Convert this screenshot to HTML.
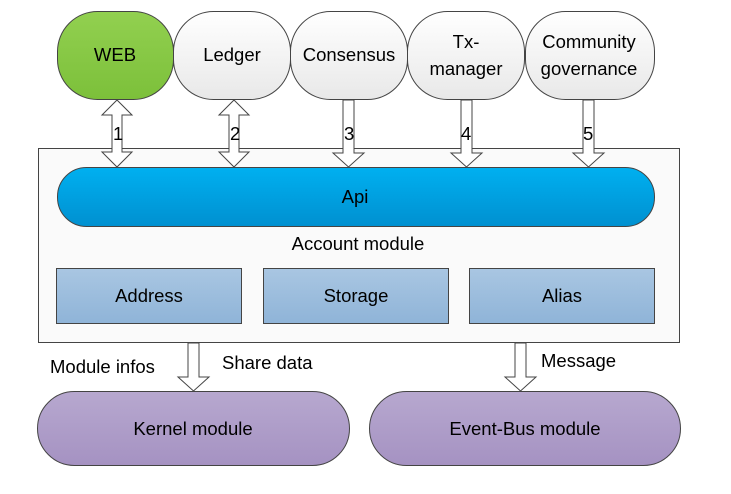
<!DOCTYPE html>
<html><head><style>body{margin:0;background:#fff}svg{display:block}text{font-family:"Liberation Sans",sans-serif;font-size:18.5px;fill:#000}</style></head><body>
<svg width="731" height="494" viewBox="0 0 731 494" xmlns="http://www.w3.org/2000/svg">
<defs>
<linearGradient id="gw" x1="0" y1="0" x2="0" y2="1"><stop offset="0" stop-color="#ffffff"/><stop offset="1" stop-color="#e8e8e8"/></linearGradient>
<linearGradient id="gg" x1="0" y1="0" x2="0" y2="1"><stop offset="0" stop-color="#92d050"/><stop offset="1" stop-color="#7cc03a"/></linearGradient>
<linearGradient id="gb" x1="0" y1="0" x2="0" y2="1"><stop offset="0" stop-color="#00b0f0"/><stop offset="1" stop-color="#0090d0"/></linearGradient>
<linearGradient id="gs" x1="0" y1="0" x2="0" y2="1"><stop offset="0" stop-color="#a9c6e2"/><stop offset="1" stop-color="#8fb4d8"/></linearGradient>
<linearGradient id="gp" x1="0" y1="0" x2="0" y2="1"><stop offset="0" stop-color="#b7a8cf"/><stop offset="1" stop-color="#a592c2"/></linearGradient>
</defs>
<rect x="38.5" y="148.5" width="641" height="194" fill="#fafafa" stroke="#444"/>
<rect x="57.5" y="11.5" width="116" height="88" rx="40" fill="url(#gg)" stroke="#444"/>
<rect x="173.5" y="11.5" width="117" height="88" rx="40" fill="url(#gw)" stroke="#444"/>
<rect x="290.5" y="11.5" width="117" height="88" rx="40" fill="url(#gw)" stroke="#444"/>
<rect x="407.5" y="11.5" width="117" height="88" rx="40" fill="url(#gw)" stroke="#444"/>
<rect x="525.5" y="11.5" width="129" height="88" rx="40" fill="url(#gw)" stroke="#444"/>
<text x="115" y="61" text-anchor="middle">WEB</text>
<text x="232" y="61" text-anchor="middle">Ledger</text>
<text x="349" y="61" text-anchor="middle">Consensus</text>
<text x="466" y="48" text-anchor="middle">Tx-</text>
<text x="466" y="75" text-anchor="middle">manager</text>
<text x="589" y="48" text-anchor="middle">Community</text>
<text x="589" y="75" text-anchor="middle">governance</text>
<g fill="#fff" stroke="#444">
<path d="M117 100 L132 115 L122 115 L122 152 L132 152 L117 167 L102 152 L112 152 L112 115 L102 115 Z"/>
<path d="M234 100 L249 115 L239 115 L239 152 L249 152 L234 167 L219 152 L229 152 L229 115 L219 115 Z"/>
<path d="M343 100 L354 100 L354 153 L364 153 L348.5 167 L333 153 L343 153 Z"/>
<path d="M461 100 L472 100 L472 153 L482 153 L466.5 167 L451 153 L461 153 Z"/>
<path d="M583 100 L594 100 L594 153 L604 153 L588.5 167 L573 153 L583 153 Z"/>
<path d="M188 343 L199 343 L199 377 L209 377 L193.5 391 L178 377 L188 377 Z"/>
<path d="M515 343 L526 343 L526 377 L536 377 L520.5 391 L505 377 L515 377 Z"/>
</g>
<text x="113" y="140">1</text><text x="230" y="140">2</text><text x="344" y="140">3</text><text x="461" y="140">4</text><text x="583" y="140">5</text>
<rect x="57.5" y="167.5" width="597" height="59" rx="29" fill="url(#gb)" stroke="#444"/>
<text x="355" y="203" text-anchor="middle">Api</text>
<text x="358" y="250" text-anchor="middle">Account module</text>
<rect x="56.5" y="268.5" width="185" height="55" fill="url(#gs)" stroke="#444"/>
<rect x="263.5" y="268.5" width="185" height="55" fill="url(#gs)" stroke="#444"/>
<rect x="469.5" y="268.5" width="185" height="55" fill="url(#gs)" stroke="#444"/>
<text x="149" y="302" text-anchor="middle">Address</text>
<text x="356" y="302" text-anchor="middle">Storage</text>
<text x="562" y="302" text-anchor="middle">Alias</text>
<text x="50" y="373">Module infos</text>
<text x="222" y="369">Share data</text>
<text x="541" y="367">Message</text>
<rect x="37.5" y="391.5" width="312" height="74" rx="37" fill="url(#gp)" stroke="#444"/>
<rect x="369.5" y="391.5" width="311" height="74" rx="37" fill="url(#gp)" stroke="#444"/>
<text x="193" y="435" text-anchor="middle">Kernel module</text>
<text x="525" y="435" text-anchor="middle">Event-Bus module</text>
</svg>
</body></html>
